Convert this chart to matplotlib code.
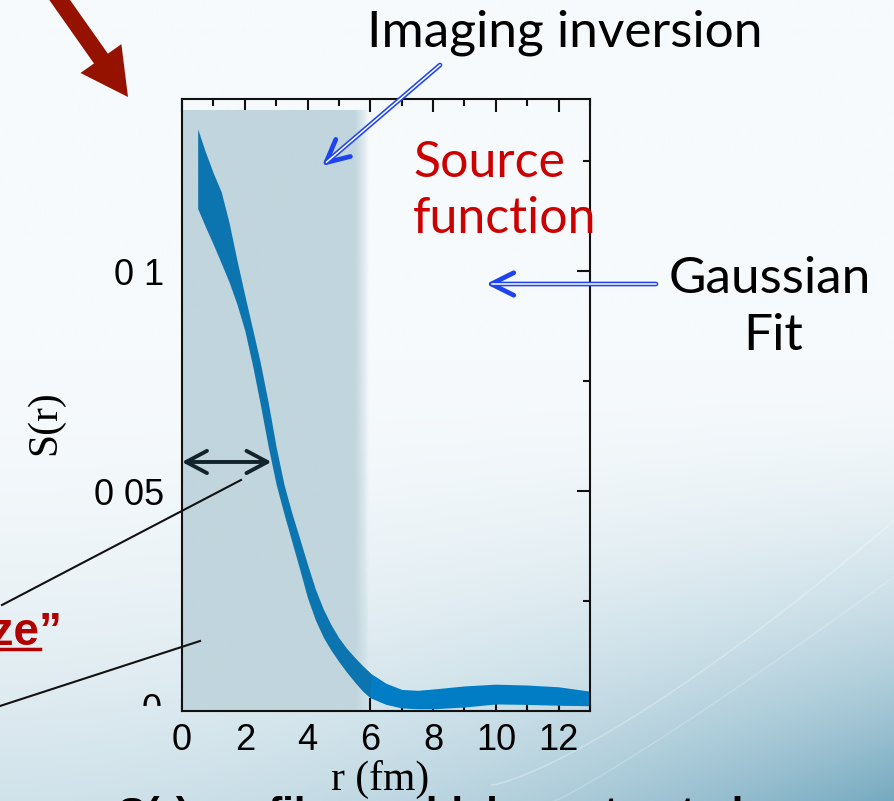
import numpy as np
import matplotlib
matplotlib.use("Agg")
import matplotlib.pyplot as plt
from matplotlib.patches import Rectangle, FancyArrow, FancyArrowPatch
from matplotlib.lines import Line2D
from matplotlib.transforms import IdentityTransform

# ---------------- data ----------------
r_fm = [0.5, 0.75, 1.0, 1.25, 1.5, 1.75, 2.0, 2.25, 2.5, 2.75, 3.0, 3.25, 3.5, 3.75,
        4.0, 4.25, 4.5, 4.75, 5.0, 5.25, 5.5, 5.75, 6.0, 6.5, 7.0, 7.5, 8.0, 9.0,
        10.0, 11.0, 12.0, 13.0]
s_upper = [0.1323, 0.1270, 0.1222, 0.1180, 0.1110, 0.1025, 0.0945, 0.0868, 0.0790,
           0.0700, 0.0600, 0.0515, 0.0450, 0.0392, 0.0333, 0.0277, 0.0232, 0.0196,
           0.0166, 0.0142, 0.0122, 0.0103, 0.0086, 0.0063, 0.0049, 0.0047, 0.0050,
           0.0057, 0.0061, 0.0059, 0.0055, 0.0045]
s_lower = [0.1142, 0.1100, 0.1060, 0.1018, 0.0975, 0.0925, 0.0865, 0.0785, 0.0695,
           0.0600, 0.0515, 0.0448, 0.0385, 0.0322, 0.0257, 0.0207, 0.0168, 0.0138,
           0.0112, 0.0088, 0.0066, 0.0046, 0.0030, 0.0015, 0.0007, 0.0005, 0.0005,
           0.0009, 0.0016, 0.0015, 0.0013, 0.0012]
x_ticks = [0, 2, 4, 6, 8, 10, 12]
x_tick_labels = ["0", "2", "4", "6", "8", "10", "12"]
y_ticks = [0.05, 0.1]
y_tick_labels = ["0 05", "0 1"]
shade_r_max = 5.95   # imaging-inversion shaded region
shade_s_max = 0.1364
hwhm_r = 2.85        # width arrow end
hwhm_s = 0.0566

W, H = 894, 801
fig = plt.figure(figsize=(W / 100, H / 100), dpi=100)
ID = IdentityTransform()

# ---------------- slide background ----------------
bg = fig.add_axes([0, 0, 1, 1], zorder=-10)
yy, xx = np.mgrid[0:1:400j, 0:1:450j]
d = np.clip((yy - 0.45) / 0.55, 0, 1) ** 1.8 * (0.30 + 0.70 * xx ** 2.0)
light = np.array([246, 250, 252]) / 255
dark = np.array([118, 170, 192]) / 255
img = light[None, None, :] * (1 - d[..., None]) + dark[None, None, :] * d[..., None]
bg.imshow(img, extent=[0, 1, 0, 1], aspect="auto", origin="upper", interpolation="bilinear")
tt = np.linspace(0, 1, 200)
bg.plot(0.55 + 0.45 * tt, 0.02 + 0.33 * tt ** 1.3, color="white", alpha=0.25, lw=1.2)
bg.plot(0.62 + 0.38 * tt, 0.0 + 0.28 * tt ** 1.1, color="white", alpha=0.2, lw=1.0)
bg.set_xlim(0, 1); bg.set_ylim(0, 1); bg.axis("off")

def P(x, y):
    return (x, H - y)

# ---------------- main axes ----------------
ax = fig.add_axes([182 / W, 90 / H, 408 / W, 612 / H])
ax.set_facecolor("none")
ax.fill_between(r_fm, s_lower, s_upper, color="#007dc4", lw=0, zorder=2)

# shaded region (soft right edge)
nx = 300
rr = np.linspace(0, shade_r_max, nx)
alpha = np.clip((shade_r_max - rr) / 0.45, 0, 1) ** 0.8
rgba = np.zeros((2, nx, 4))
rgba[..., 0] = 193 / 255; rgba[..., 1] = 213 / 255; rgba[..., 2] = 221 / 255
rgba[..., 3] = alpha[None, :]
ax.imshow(rgba, extent=[0, shade_r_max, 0, shade_s_max], aspect="auto", zorder=2.3,
          interpolation="bilinear")
band_in = ax.fill_between(r_fm, s_lower, s_upper, color="#0c74ae", lw=0, zorder=2.5)
band_in.set_clip_path(Rectangle((0, 0), 6.0, shade_s_max, transform=ax.transData))

ax.set_xlim(0, 13)
ax.set_ylim(0, 0.1391)
for sp in ax.spines.values():
    sp.set_linewidth(1.5)
    sp.set_color("#111111")
    sp.set_zorder(5)

tick_font = dict(family=["Liberation Sans", "DejaVu Sans"], size=26)
ax.set_xticks(x_ticks)
ax.set_xticklabels(x_tick_labels, **tick_font)
ax.set_xticks(np.arange(0, 14, 1), minor=True)
ax.set_yticks(y_ticks)
ax.set_yticklabels(y_tick_labels, **tick_font)
ax.set_yticks([0.025, 0.075, 0.125], minor=True)
ax.tick_params(which="both", direction="in", top=True, right=True, color="#111111", width=1.5)
ax.tick_params(which="major", length=9.5)
ax.tick_params(which="minor", length=5)
ax.tick_params(axis="x", which="major", pad=9)
ax.tick_params(axis="y", which="major", pad=13)

# clipped "0" label at y = 0
clip = Rectangle((0, H - 706), W, 706, transform=ID, facecolor="none")
z = fig.text(162, H - 711, "0", transform=ID, ha="right", va="center",
             fontsize=26, family=["Liberation Sans", "DejaVu Sans"])
z.set_clip_path(clip)

serif = ["Liberation Serif", "DejaVu Serif"]
fig.text(380, H - 790, "r (fm)", transform=ID, ha="center",
         va="baseline", fontsize=30, family=serif)
fig.text(45, H - 423, "S(r)", transform=ID, ha="center", va="center",
         rotation=90, fontsize=30, family=serif)

# width double arrow
ax.annotate("", xy=(hwhm_r, hwhm_s), xytext=(0, hwhm_s),
            arrowprops=dict(arrowstyle="<->,head_length=0.6,head_width=0.32",
                            lw=2.8, color="#13232b", mutation_scale=25,
                            shrinkA=0, shrinkB=0), zorder=6)

# ---------------- slide annotations ----------------
sans = ["Lato", "DejaVu Sans"]
fig.text(565, H - 47, "Imaging inversion", transform=ID, ha="center",
         va="baseline", fontsize=37, family=sans, color="black")
fig.text(413, H - 177, "Source", transform=ID, ha="left",
         va="baseline", fontsize=36, family=sans, color="#cc0000")
fig.text(413, H - 233, "function", transform=ID, ha="left",
         va="baseline", fontsize=36, family=sans, color="#cc0000")
fig.text(770, H - 293, "Gaussian", transform=ID, ha="center",
         va="baseline", fontsize=37, family=sans, color="black")
fig.text(773, H - 350, "Fit", transform=ID, ha="center",
         va="baseline", fontsize=37, family=sans, color="black")

blue = "#1e44f2"
def double_arrow(x0, y0, x1, y1):
    fig.add_artist(FancyArrowPatch(
        P(x0, y0), P(x1, y1), transform=ID,
        arrowstyle="->,head_length=0.9,head_width=0.45", mutation_scale=18,
        lw=3.4, color=blue, shrinkA=0, shrinkB=0, zorder=7))
    L = np.hypot(x1 - x0, y1 - y0)
    f = 6.0 / L
    xe, ye = x1 + (x0 - x1) * f, y1 + (y0 - y1) * f
    fig.add_artist(Line2D([x0, xe], [H - y0, H - ye], transform=ID,
                          color="white", lw=1.1, zorder=8))

double_arrow(440, 65, 322, 166)
double_arrow(656, 284, 486, 284)

# big dark red arrow
tip = np.array([128.0, 97.0]); start = np.array([47.0, -18.0])
fig.add_artist(FancyArrow(start[0], H - start[1], tip[0] - start[0], -(tip[1] - start[1]),
                          width=17, head_width=50, head_length=47,
                          length_includes_head=True, transform=ID,
                          color="#961200", lw=0, zorder=9))

# black leader lines
for (xa, ya, xb, yb) in [(241, 480, 2, 605), (200, 641, 0, 706)]:
    fig.add_artist(Line2D([xa, xb], [H - ya, H - yb], transform=ID,
                          color="#111111", lw=1.5, zorder=7))

# cut-off red underlined label on the left edge
fig.text(62, H - 645, "\u201cSource size\u201d", transform=ID, ha="right",
         va="baseline", fontsize=33, family=["Liberation Sans", "DejaVu Sans"],
         weight="bold", color="#b00000")
fig.add_artist(Line2D([0, 40], [H - 649, H - 649], transform=ID,
                      color="#b00000", lw=2.5))

# cut-off bold text at the very bottom
fig.text(118, H - 827, "S(r) profile  could  be  extracted", transform=ID,
         ha="left", va="baseline", fontsize=30, family=["Liberation Sans", "DejaVu Sans"],
         weight="bold", color="black")

fig.savefig("out.png", dpi=100)
